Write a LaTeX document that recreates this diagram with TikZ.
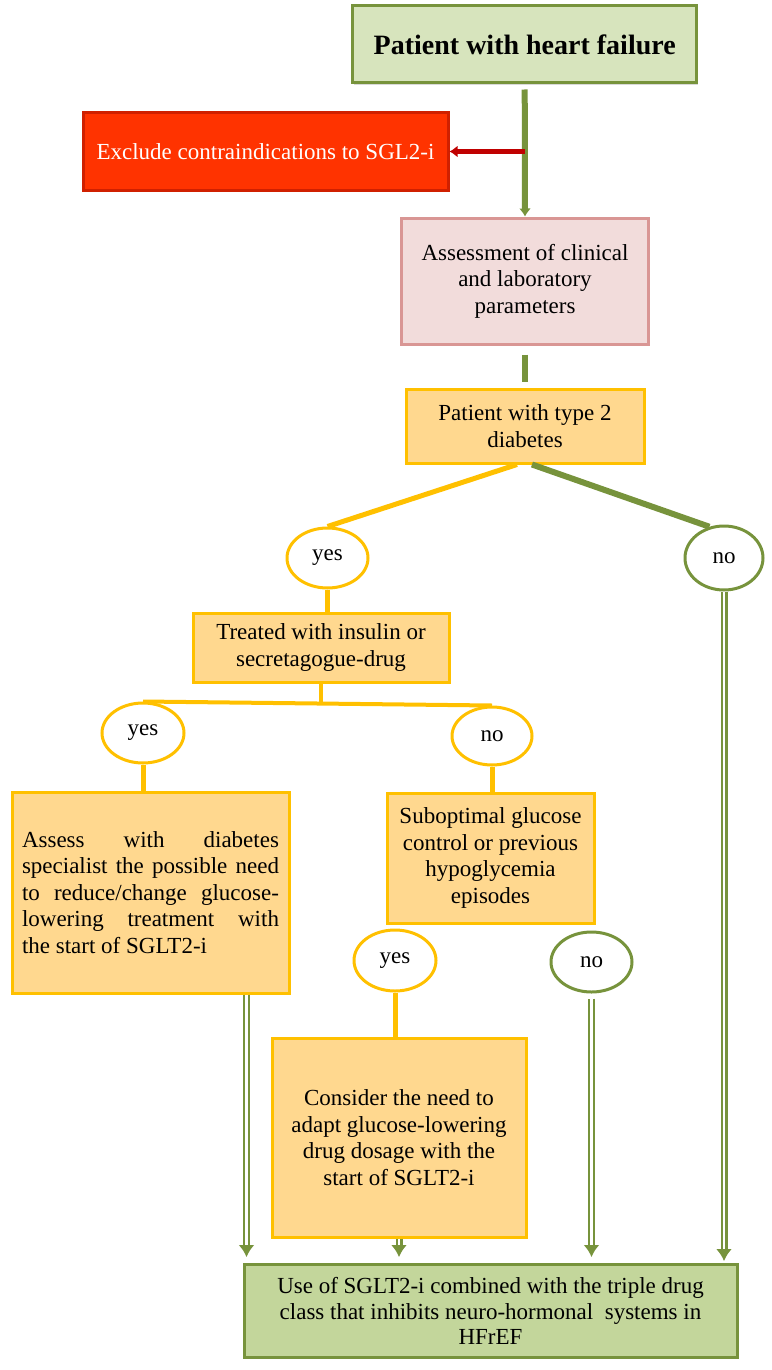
\documentclass[tikz,border=0pt]{standalone}
\usepackage{fontspec}
\setmainfont{Liberation Serif}
\usetikzlibrary{shapes.geometric,arrows.meta,shadows}

\definecolor{verdechiaro}{HTML}{D7E4BD}
\definecolor{verdemedio}{HTML}{C3D69B}
\definecolor{verdeoliva}{HTML}{77933C}
\definecolor{rossovivo}{HTML}{FF3300}
\definecolor{rossobordo}{HTML}{D02000}
\definecolor{rossoscuro}{HTML}{C00000}
\definecolor{rosachiaro}{HTML}{F2DCDB}
\definecolor{rosabordo}{HTML}{D99694}
\definecolor{arancio}{HTML}{FFD88F}
\definecolor{ambra}{HTML}{FFC000}

\begin{document}
\begin{tikzpicture}[x=0.5pt, y=-0.5pt, font=\fontsize{11.5}{13.3}\selectfont]
	% Stili dei nodi e delle linee
	\tikzset{
		box/.style={rectangle, draw, line width=1.5pt, align=center, inner sep=2pt,
			drop shadow={shadow xshift=0.8pt, shadow yshift=-0.8pt, opacity=0.3}},
		boxverde/.style={box, draw=verdeoliva, fill=verdechiaro},
		boxrosso/.style={box, draw=rossobordo, fill=rossovivo, text=white},
		boxrosa/.style={box, draw=rosabordo, fill=rosachiaro},
		boxarancio/.style={box, draw=ambra, fill=arancio},
		sino/.style={ellipse, draw, line width=1.5pt, fill=white, inner sep=0pt},
		lineaverde/.style={draw=verdeoliva, line width=3pt},
		lineagialla/.style={draw=ambra, line width=2.5pt},
		frecciadoppia/.style={draw=verdeoliva, line width=1.1pt, double=white, double distance=1.3pt,
			-{Latex[length=6pt, width=8pt]}, shorten >=3pt}
	}

	% Area del disegno
	\useasboundingbox (0,0) rectangle (771,1370);

	% Riquadri principali
	\node[boxverde, minimum width=172pt, minimum height=38.5pt, font=\fontsize{14}{16}\selectfont\bfseries] (hf) at (524.7,44.5) {Patient with heart failure};
	\node[boxrosso, minimum width=182.5pt, minimum height=38.5pt] (escludi) at (265.5,151.5) {Exclude contraindications to SGL2-i};
	\node[boxrosa, minimum width=123.5pt, minimum height=63pt] (valuta) at (525,281) {Assessment of clinical\\and laboratory\\parameters};
	\node[boxarancio, minimum width=119pt, minimum height=37pt] (t2d) at (525,426) {Patient with type 2\\diabetes};

	% Primo bivio
	\node[sino, draw=ambra, minimum width=40.5pt, minimum height=30pt] (si1) at (327.5,558) {yes};
	\node[sino, draw=verdeoliva, minimum width=39pt, minimum height=32pt] (no1) at (724,558) {no};
	\node[boxarancio, minimum width=128pt, minimum height=34.5pt] (insulina) at (321,647.5) {Treated with insulin or\\secretagogue-drug};

	% Secondo bivio
	\node[sino, draw=ambra, minimum width=41pt, minimum height=30pt] (si2) at (143,733) {yes};
	\node[sino, draw=ambra, minimum width=40pt, minimum height=29pt] (no2) at (492,736) {no};
	\node[boxarancio, minimum width=138.5pt, minimum height=100.5pt, text width=128.5pt, align=justify] (specialista) at (150.5,892.5)
		{Assess with diabetes\linebreak specialist the possible need\linebreak to reduce/change glucose-\linebreak lowering treatment with\linebreak the start of SGLT2-i};
	\node[boxarancio, minimum width=103.5pt, minimum height=65pt] (glicemia) at (490.5,858) {Suboptimal glucose\\control or previous\\hypoglycemia\\episodes};

	% Terzo bivio
	\node[sino, draw=ambra, minimum width=41pt, minimum height=30.5pt] (si3) at (395,960.5) {yes};
	\node[sino, draw=verdeoliva, minimum width=40.5pt, minimum height=30pt] (no3) at (591.5,962) {no};
	\node[boxarancio, minimum width=127pt, minimum height=99.5pt] (dosaggio) at (399,1137.5) {Consider the need to\\adapt glucose-lowering\\drug dosage with the\\start of SGLT2-i};

	% Riquadro finale
	\node[box, draw=verdeoliva, fill=verdemedio, minimum width=246.5pt, minimum height=46.5pt, font=\fontsize{11.5}{12.8}\selectfont] (finale) at (490.5,1311)
		{Use of SGLT2-i combined with the triple drug\\class that inhibits neuro-hormonal~ systems in\\HFrEF};

	% Collegamenti
	\draw[lineaverde, -{Latex[length=4pt, width=6pt]}, shorten <=2.5pt] (hf.south) -- (valuta.north);
	\draw[draw=rossoscuro, line width=2.3pt, -{Latex[length=4pt, width=6pt]}] (hf.south |- escludi.east) -- (escludi.east);
	\draw[lineaverde, shorten <=4.5pt, shorten >=3pt] (valuta.south) -- (t2d.north);
	\draw[lineagialla] ([xshift=-4pt]t2d.south) -- (si1.north);
	\draw[lineaverde] ([xshift=3.5pt]t2d.south) -- (no1.115);
	\draw[lineagialla] (si1.south) -- (si1.south |- insulina.north);
	\draw[lineagialla, line width=2pt] (insulina.south) -- (insulina.south |- si2.north);
	\draw[lineagialla, line width=2pt] (si2.north) -- (no2.north);
	\draw[lineagialla] (si2.south) -- (si2.south |- specialista.north);
	\draw[lineagialla] (no2.south) -- (no2.south |- glicemia.north);
	\draw[lineagialla] (si3.south) -- (si3.south |- dosaggio.north);

	% Frecce verso il riquadro finale
	\draw[frecciadoppia] ([xshift=2pt]specialista.south -| finale.north west) -- ([xshift=2pt]finale.north west);
	\draw[frecciadoppia] (dosaggio.south) -- (dosaggio.south |- finale.north);
	\draw[frecciadoppia, shorten <=2.5pt] (no3.south) -- (no3.south |- finale.north);
	\draw[frecciadoppia, shorten >=1pt] (no1.south) -- (no1.south |- finale.north);
\end{tikzpicture}
\end{document}
